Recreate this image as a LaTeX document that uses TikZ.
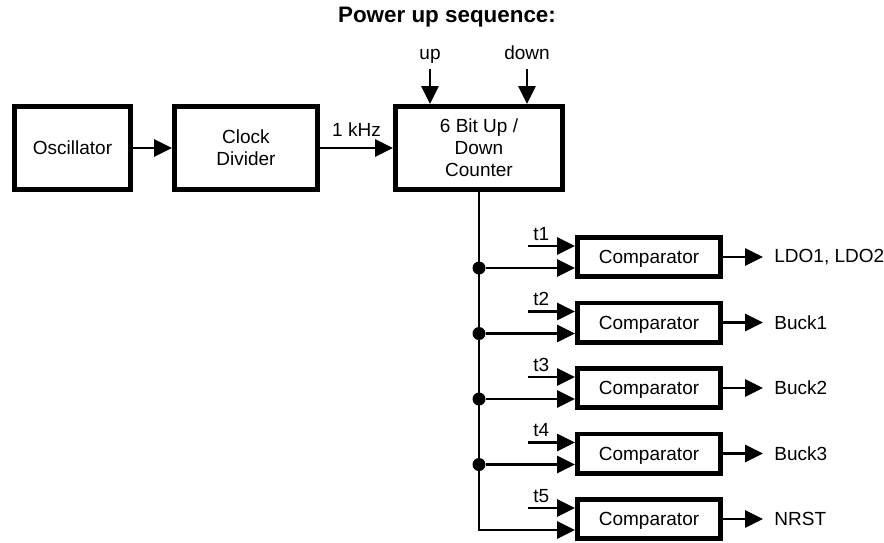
\documentclass[tikz,border=0pt]{standalone}
\usepackage{fontspec}
\setmainfont{Liberation Sans}
\usetikzlibrary{arrows.meta,positioning}

\begin{document}
\begin{tikzpicture}[x=0.5pt,y=-0.5pt,>={Triangle[length=9pt,width=8.5pt]},
  every node/.style={inner sep=1pt,font=\fontsize{9.5}{11}\selectfont},
  blk/.style={draw,line width=2.4pt,align=center,minimum height=41.6pt},
  cmpbox/.style={draw,line width=2.4pt,minimum width=71.6pt,minimum height=19.6pt,text depth=0pt},
  wire/.style={line width=1.4pt},
  outwire/.style={wire,->,shorten >=4.5pt},
  inlbl/.style={above,inner xsep=1pt,inner ysep=1.5pt,text depth=2.5pt},
  tlbl/.style={above right,inner xsep=2pt,inner ysep=2pt},
  dot/.style={circle,fill,inner sep=0pt,minimum size=6.5pt}]
  \useasboundingbox (0,0) rectangle (884,542);
  \node[font=\fontsize{11.2}{13}\selectfont\bfseries] (title) at (447,17) {Power up sequence:};
  \node[blk,minimum width=58.1pt] (osc) at (72.5,148) {Oscillator};
  \node[blk,minimum width=71.6pt] (clk) at (246,148) {Clock\\Divider};
  \node[blk,minimum width=83.6pt] (cnt) at (479,148) {6 Bit Up /\\Down\\Counter};
  \node[cmpbox] (cmp1) at (649,257) {Comparator};
  \node[cmpbox] (cmp2) at (649,322.5) {Comparator};
  \node[cmpbox] (cmp3) at (649,388) {Comparator};
  \node[cmpbox] (cmp4) at (649,453.5) {Comparator};
  \node[cmpbox] (cmp5) at (649,519) {Comparator};
  \node[right=24.5pt of cmp1] (out1) {LDO1, LDO2};
  \node[right=24.5pt of cmp2] (out2) {Buck1};
  \node[right=24.5pt of cmp3] (out3) {Buck2};
  \node[right=24.5pt of cmp4] (out4) {Buck3};
  \node[right=24.5pt of cmp5] (out5) {NRST};
  \coordinate (upin) at ([xshift=-24.5pt]cnt.north);
  \coordinate (dnin) at ([xshift=24pt]cnt.north);
  \coordinate (a1) at ([yshift=5.5pt]cmp1.west);
  \coordinate (a2) at ([yshift=5.5pt]cmp2.west);
  \coordinate (a3) at ([yshift=5.5pt]cmp3.west);
  \coordinate (a4) at ([yshift=5.5pt]cmp4.west);
  \coordinate (a5) at ([yshift=5.5pt]cmp5.west);
  \coordinate (b1) at ([yshift=-5.5pt]cmp1.west);
  \coordinate (b2) at ([yshift=-5.5pt]cmp2.west);
  \coordinate (b3) at ([yshift=-5.5pt]cmp3.west);
  \coordinate (b4) at ([yshift=-5.5pt]cmp4.west);
  \coordinate (b5) at ([yshift=-5.5pt]cmp5.west);
  \node[dot] (j1) at (b1 -| cnt.south) {};
  \node[dot] (j2) at (b2 -| cnt.south) {};
  \node[dot] (j3) at (b3 -| cnt.south) {};
  \node[dot] (j4) at (b4 -| cnt.south) {};
  \draw[wire,->] (osc) -- (clk);
  \draw[wire,->] (clk) -- (cnt) node[midway,above=4pt] {1 kHz};
  \draw[wire,->] ([yshift=17.5pt]upin) node[inlbl] {up} -- (upin);
  \draw[wire,->] ([yshift=17.5pt]dnin) node[inlbl] {down} -- (dnin);
  \draw[wire,->] (cnt.south) |- (b5);
  \draw[wire,->] (j1) -- (b1);
  \draw[wire,->] (j2) -- (b2);
  \draw[wire,->] (j3) -- (b3);
  \draw[wire,->] (j4) -- (b4);
  \draw[wire,->] ([xshift=-23.5pt]a1) node[tlbl] {t1} -- (a1);
  \draw[wire,->] ([xshift=-23.5pt]a2) node[tlbl] {t2} -- (a2);
  \draw[wire,->] ([xshift=-23.5pt]a3) node[tlbl] {t3} -- (a3);
  \draw[wire,->] ([xshift=-23.5pt]a4) node[tlbl] {t4} -- (a4);
  \draw[wire,->] ([xshift=-23.5pt]a5) node[tlbl] {t5} -- (a5);
  \draw[outwire] (cmp1) -- (out1);
  \draw[outwire] (cmp2) -- (out2);
  \draw[outwire] (cmp3) -- (out3);
  \draw[outwire] (cmp4) -- (out4);
  \draw[outwire] (cmp5) -- (out5);
\end{tikzpicture}
\end{document}
